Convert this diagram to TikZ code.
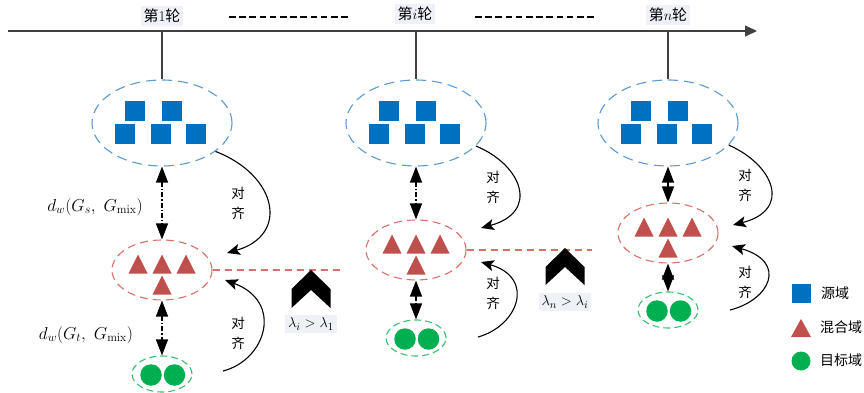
\documentclass[tikz,border=0pt]{standalone}
\usepackage{fontspec}
\usetikzlibrary{shapes.geometric,arrows.meta}
\newfontfamily\cjk{Noto Sans CJK SC}
\definecolor{sqblue}{HTML}{0070C0}
\definecolor{elblue}{HTML}{5B9BD5}
\definecolor{trired}{HTML}{C0504D}
\definecolor{elred}{HTML}{D9706B}
\definecolor{cgreen}{HTML}{00B050}
\definecolor{elgreen}{HTML}{3CC070}
\definecolor{labbg}{HTML}{EEF1F8}
\definecolor{axgray}{HTML}{404040}
\begin{document}
\begin{tikzpicture}[x=1pt,y=-1pt,
  blueell/.style={ellipse, draw=elblue, dash pattern=on 10pt off 6pt, line width=1.1pt, minimum width=140pt, minimum height=86pt, inner sep=0pt},
  redell/.style={ellipse, draw=elred, dash pattern=on 8pt off 5pt, line width=1.1pt, minimum width=100pt, minimum height=60pt, inner sep=0pt},
  greenell/.style={ellipse, draw=elgreen, dash pattern=on 7pt off 4pt, line width=1.1pt, minimum width=60pt, minimum height=36pt, inner sep=0pt},
  sqr/.style={rectangle, fill=sqblue, minimum size=20pt, inner sep=0pt},
  dot/.style={circle, fill=cgreen, minimum size=21.5pt, inner sep=0pt},
  roundlab/.style={fill=labbg, inner sep=3pt, font=\fontsize{15}{18}\selectfont},
  dist/.style={line width=1.2pt, dash pattern=on 5pt off 2pt on 1.2pt off 2pt, {Triangle[length=16pt,width=12pt]}-{Triangle[length=16pt,width=12pt]}},
  alignarrow/.style={line width=1.1pt, -{Stealth[length=13pt,width=11pt,inset=3pt]}},
  alignlab/.style={align=center, font=\fontsize{13.5}{20}\selectfont\cjk, inner sep=0pt},
  mixline/.style={draw=elred, line width=1.1pt, dash pattern=on 7pt off 5pt},
  topdash/.style={line width=1.4pt, dash pattern=on 6.5pt off 3.7pt},
  lamlab/.style={fill=labbg, inner sep=3pt, font=\fontsize{15}{18}\selectfont},
  legtext/.style={anchor=west, font=\fontsize{14}{16}\selectfont\cjk, inner sep=0pt}
]
\useasboundingbox (0,0) rectangle (864,393);

% time axis
\coordinate (axs) at (8,31);
\coordinate (axe) at (757,31);
\draw[axgray, line width=1.3pt, -{Triangle[length=12pt,width=11pt]}] (axs) -- (axe);
\node[roundlab] (t1) at (162,16) {{\cjk 第}1{\cjk 轮}};
\node[roundlab] (t2) at (415,14) {{\cjk 第}$i${\cjk 轮}};
\node[roundlab] (t3) at (668,15) {{\cjk 第}$n${\cjk 轮}};
\draw[topdash] (229,17) -- (350,17);
\draw[topdash] (475,17) -- (595,17);

% round columns
\foreach \k/\cx/\rcy/\gcy in {1/162/270/374, 2/416/250/338, 3/668/233/310}{
  \node[blueell] (b\k) at (\cx,123) {};
  \node[redell] (r\k) at (\cx,\rcy) {};
  \node[greenell] (g\k) at (\cx,\gcy) {};
  \coordinate (ax\k) at (\cx,31);
  \draw[axgray, line width=1.1pt] (ax\k) -- (b\k.north);
  % squares
  \node[sqr] (s\k a) at (\cx-27,111.5) {};
  \node[sqr] (s\k b) at (\cx+10,111.5) {};
  \node[sqr] (s\k c) at (\cx-37,134) {};
  \node[sqr] (s\k d) at (\cx-1,134) {};
  \node[sqr] (s\k e) at (\cx+34,134) {};
  % triangles
  \foreach \dx/\dy in {-24/-6, 0/-6, 24/-6, 0/15}{
    \fill[trired] (\cx+\dx-9.5,\rcy+\dy+9.5) -- (\cx+\dx+9.5,\rcy+\dy+9.5) -- (\cx+\dx,\rcy+\dy-9.5) -- cycle;
  }
  % circles
  \node[dot] (c\k a) at (\cx-11,\gcy+1) {};
  \node[dot] (c\k b) at (\cx+12.5,\gcy+1) {};
  % distance arrows
  \draw[dist] (b\k.south) -- (r\k.north);
  \draw[dist] (r\k.south) -- (g\k.north);
}

% alignment curves
\coordinate (e1u) at (227,253);
\coordinate (s1l) at (223,371);
\coordinate (e1l) at (225,280);
\draw[alignarrow] (b1.-28) .. controls (277,175) and (290,235) .. (e1u);
\draw[alignarrow] (s1l) .. controls (266,360) and (284,302) .. (e1l);
\node[alignlab] (a1u) at (238,203) {对\\齐};
\node[alignlab] (a1l) at (238,333) {对\\齐};

\coordinate (e2u) at (481,228);
\coordinate (s2l) at (478,337);
\coordinate (e2l) at (481,262);
\draw[alignarrow] (b2.-21) .. controls (522,165) and (540,212) .. (e2u);
\draw[alignarrow] (s2l) .. controls (518,326) and (536,278) .. (e2l);
\node[alignlab] (a2u) at (493,187) {对\\齐};
\node[alignlab] (a2l) at (493,293) {对\\齐};

\coordinate (e3u) at (733,225);
\coordinate (s3l) at (730,310);
\coordinate (e3l) at (732,246);
\draw[alignarrow] (b3.-20) .. controls (774,165) and (792,210) .. (e3u);
\draw[alignarrow] (s3l) .. controls (770,300) and (788,262) .. (e3l);
\node[alignlab] (a3u) at (745,185) {对\\齐};
\node[alignlab] (a3l) at (745,282) {对\\齐};

% mix lines
\coordinate (m1) at (340,270);
\coordinate (m2) at (592,250);
\draw[mixline] (r1.east) -- (m1);
\draw[mixline] (r2.east) -- (m2);

% chevrons
\fill (311,270) -- (330.5,289) -- (330.5,308) -- (311,290) -- (291.5,308) -- (291.5,289) -- cycle;
\fill (565,248) -- (584.5,267) -- (584.5,285) -- (565,267) -- (545.5,285) -- (545.5,267) -- cycle;
\node[lamlab] (l1) at (311,324) {$\lambda_i > \lambda_1$};
\node[lamlab] (l2) at (565,302) {$\lambda_n > \lambda_i$};

% distance labels
\node[font=\fontsize{17}{20}\selectfont, inner sep=0pt] (d1) at (95,207) {$d_w(G_s,\ G_{\mathrm{mix}})$};
\node[font=\fontsize{17}{20}\selectfont, inner sep=0pt] (d2) at (86,335) {$d_w(G_t,\ G_{\mathrm{mix}})$};

% legend
\node[rectangle, fill=sqblue, minimum size=19pt, inner sep=0pt] (lgs) at (801,293) {};
\fill[trired] (791,337) -- (811,337) -- (801,319) -- cycle;
\node[circle, fill=cgreen, minimum size=19pt, inner sep=0pt] (lgc) at (801,361) {};
\node[legtext] (lt1) at (821,293) {源域};
\node[legtext] (lt2) at (820,327) {混合域};
\node[legtext] (lt3) at (820,360) {目标域};
\end{tikzpicture}
\end{document}
